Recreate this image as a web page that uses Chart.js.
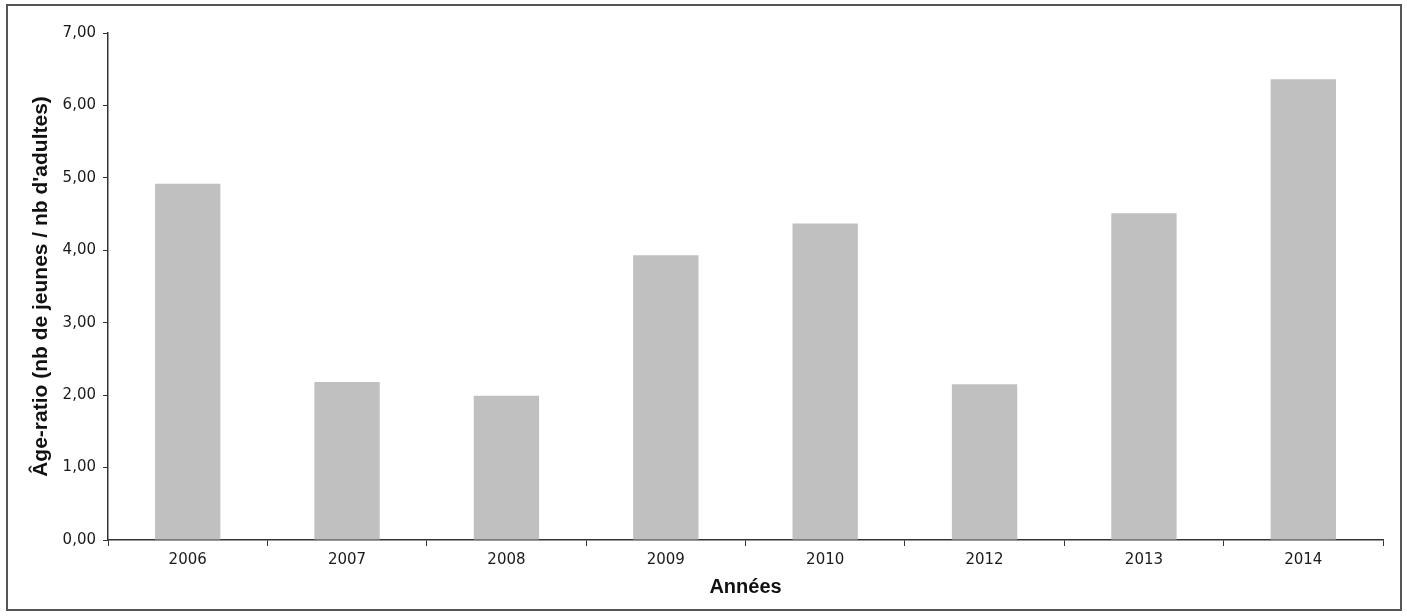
<!DOCTYPE html>
<html lang="fr">
<head>
<meta charset="utf-8">
<title>Âge-ratio</title>
<script src="https://cdn.jsdelivr.net/npm/chart.js@4/dist/chart.umd.min.js"></script>
<style>
    html, body { margin: 0; padding: 0; background: #fff; }
    #wrap { position: relative; width: 1407px; height: 616px; }
    #myChart { position: absolute; left: 0; top: 0; }
    #frame {
        position: absolute; left: 6px; top: 4px; width: 1392px; height: 603px;
        border: 2px solid #555; pointer-events: none;
    }
</style>
</head>
<body>
<div id="wrap">
    <canvas id="myChart" width="1407" height="616"></canvas>
    <div id="frame"></div>
</div>
<script>
// années et âge-ratio (nb de jeunes / nb d'adultes)
const years = ['2006', '2007', '2008', '2009', '2010', '2012', '2013', '2014'];
const ageRatio = [4.92, 2.18, 1.99, 3.93, 4.37, 2.15, 4.51, 6.36];
const yTicks = [0, 1, 2, 3, 4, 5, 6, 7];

const axisColor = '#333';
const tickFont = { family: "'DejaVu Sans', Verdana, sans-serif", size: 15 };
const titleFont = "'Liberation Sans', Arial, sans-serif";
const frFormat = v => v.toFixed(2).replace('.', ',');

const ctx = document.getElementById('myChart');
new Chart(ctx, {
    type: 'bar',
    data: {
        labels: years,
        datasets: [{
            label: 'Âge-ratio',
            data: ageRatio,
            backgroundColor: '#c0c0c0',
            borderWidth: 0,
            barPercentage: 0.41,
            categoryPercentage: 1
        }]
    },
    options: {
        responsive: false,
        animation: false,
        layout: { padding: { left: 0, right: 24, top: 33, bottom: 0 } },
        plugins: {
            legend: { display: false },
            tooltip: { enabled: false }
        },
        scales: {
            x: {
                afterFit: s => { s.height = 76; },
                grid: { drawOnChartArea: false, tickLength: 6, color: axisColor, offset: true },
                border: { color: axisColor, width: 1.5 },
                ticks: { color: '#1a1a1a', padding: 5, font: tickFont },
                title: {
                    display: true, text: 'Années', color: '#111',
                    font: { family: titleFont, size: 20, weight: 'bold' },
                    padding: { top: 4, bottom: 17 }
                }
            },
            y: {
                min: 0, max: 7,
                afterFit: s => { s.width = 108; },
                afterBuildTicks: s => { s.ticks = yTicks.map(v => ({ value: v })); },
                grid: { drawOnChartArea: false, tickLength: 5, color: axisColor },
                border: { color: axisColor, width: 1.5 },
                ticks: { color: '#1a1a1a', padding: 7, font: tickFont, callback: v => frFormat(v) },
                title: {
                    display: true, text: "Âge-ratio (nb de jeunes / nb d'adultes)", color: '#111',
                    font: { family: titleFont, size: 21, weight: 'bold' },
                    padding: { top: 29, bottom: 0 }
                }
            }
        }
    }
});
</script>
</body>
</html>
